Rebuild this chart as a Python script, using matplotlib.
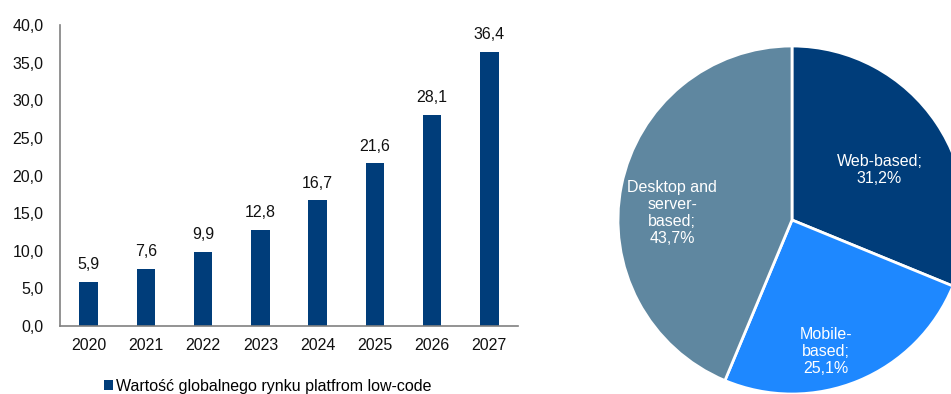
import numpy as np
import matplotlib
matplotlib.use("Agg")
import matplotlib.pyplot as plt

plt.rcParams['font.family'] = ['Liberation Sans', 'DejaVu Sans']

years = ['2020', '2021', '2022', '2023', '2024', '2025', '2026', '2027']
market_value = [5.9, 7.6, 9.9, 12.8, 16.7, 21.6, 28.1, 36.4]
bar_label = 'Wartość globalnego rynku platfrom low-code'

segments = ['Web-based', 'Mobile-\nbased', 'Desktop and\nserver-\nbased']
shares = [31.2, 25.1, 43.7]
seg_colors = ['#003d7a', '#1e88ff', '#5f87a0']

FS = 11.5


def pl(v, fmt='{:.1f}'):
    return fmt.format(v).replace('.', ',')


fig = plt.figure(figsize=(9.51, 3.94), dpi=100)

# bar chart
ax = fig.add_axes([60 / 951, 68 / 394, 458 / 951, 301 / 394])
x = np.arange(len(years))
bars = ax.bar(x, market_value, width=0.32, color='#003d7a', label=bar_label)
for xi, v in zip(x, market_value):
    ax.annotate(pl(v), (xi, v), xytext=(0, 7), textcoords='offset points',
                ha='center', va='bottom', fontsize=FS, color='#111111')
ax.set_xlim(-0.5, len(years) - 0.5)
ax.set_ylim(0, 40)
ax.set_yticks(np.arange(0, 41, 5))
ax.set_yticklabels([pl(t) for t in np.arange(0, 41, 5)])
ax.set_xticks(x)
ax.set_xticklabels(years)
ax.tick_params(axis='y', length=0, pad=12, labelsize=FS, colors='#111111')
ax.tick_params(axis='x', length=0, pad=9, labelsize=FS, colors='#111111')
for s in ['top', 'right']:
    ax.spines[s].set_visible(False)
for s in ['left', 'bottom']:
    ax.spines[s].set_color('#808080')
    ax.spines[s].set_linewidth(1.2)

fig.legend(handles=[bars], labels=[bar_label], loc='center left',
           bbox_to_anchor=(104 / 951, 1 - 386 / 394), frameon=False,
           fontsize=FS, handlelength=0.55, handleheight=0.55,
           handletextpad=0.2, borderpad=0, borderaxespad=0)

# pie chart
pax = fig.add_axes([618 / 951, 0 / 394, 348 / 951, 348 / 394])
wedges, _ = pax.pie(shares, colors=seg_colors, startangle=90, counterclock=False,
                    radius=1.0, wedgeprops=dict(edgecolor='white', linewidth=2))
pax.set_xlim(-1, 1)
pax.set_ylim(-1, 1)
pax.set_aspect('equal')
pax.axis('off')

label_r = [0.58, 0.78, 0.69]
label_shift = [-4, -8, 8]
for w, name, val, r, sh in zip(wedges, segments, shares, label_r, label_shift):
    ang = np.deg2rad((w.theta1 + w.theta2) / 2 + sh)
    pax.text(r * np.cos(ang), r * np.sin(ang), name + ';\n' + pl(val) + '%',
             ha='center', va='center', color='white', fontsize=FS,
             linespacing=1.15)

fig.savefig('out.png', dpi=100)
